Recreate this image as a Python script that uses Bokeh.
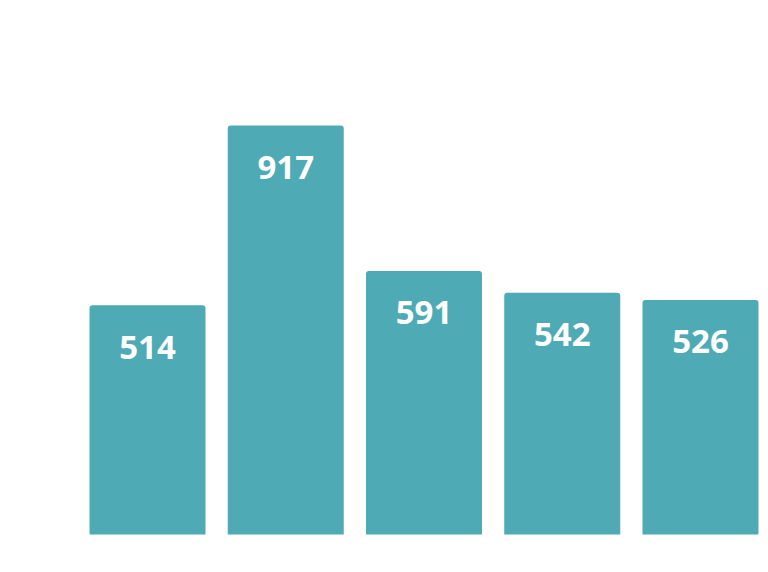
from bokeh.plotting import figure
from bokeh.models import ColumnDataSource, Range1d
from bokeh.core.properties import value
from bokeh.embed import file_html
from bokeh.resources import INLINE

categories = ["A", "B", "C", "D", "E"]
values = [514, 917, 591, 542, 526]
labels = [str(v) for v in values]

xs = list(range(len(categories)))
src = ColumnDataSource(dict(x=xs, top=values, label=labels))

p = figure(width=768, height=572, output_backend="svg", toolbar_location=None,
           x_range=Range1d(-1.0633, 4.4919), y_range=Range1d(-85.2, 1197.3),
           min_border=0, min_border_left=0, min_border_right=0,
           min_border_top=0, min_border_bottom=0)
p.axis.visible = False
p.grid.visible = False
p.outline_line_color = None
p.background_fill_color = "white"
p.border_fill_color = "white"

p.vbar(x="x", top="top", bottom=0, width=0.839, source=src,
       fill_color="#4EAAB4", line_color=None,
       border_radius=(3, 3, 0, 0))

p.text(x="x", y="top", text="label", source=src, y_offset=42,
       text_align="center", text_baseline="middle",
       text_color="white", text_font=value("Open Sans"),
       text_font_style="bold", text_font_size="33px")

open("out.html", "w").write(file_html(p, INLINE))
